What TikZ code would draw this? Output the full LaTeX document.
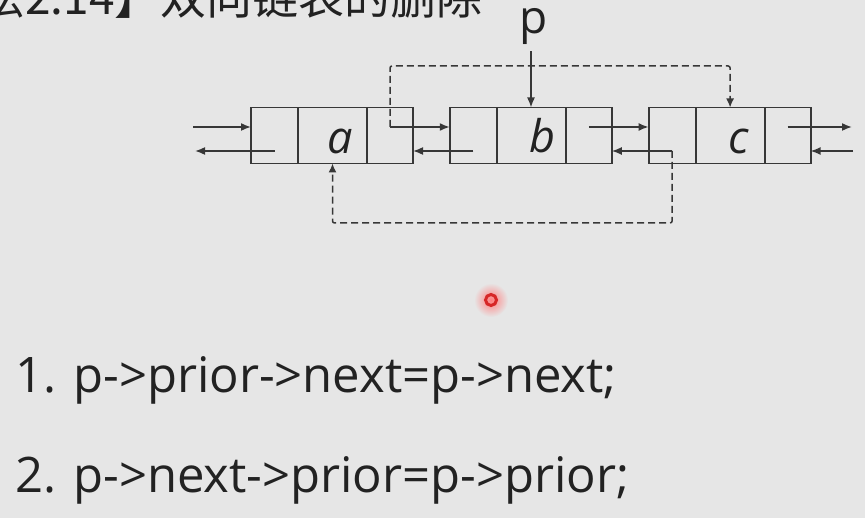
\documentclass[tikz,border=0pt]{standalone}
\usepackage{fontspec}
\setmainfont{Open Sans}
\newfontfamily\cjkfont{Noto Sans CJK SC}
\usetikzlibrary{positioning,matrix,arrows.meta,calc}
\definecolor{slidebg}{RGB}{230,230,230}
\definecolor{ink}{RGB}{55,55,55}
\definecolor{codeink}{RGB}{34,34,34}
\tikzset{
  link/.style={-{Latex[length=10pt,width=8pt]}, ink, line width=1.6pt},
  hop/.style={ink, line width=1.5pt, dash pattern=on 7pt off 4pt, rounded corners=2pt},
  lab/.style={font=\fontsize{45}{45}\selectfont\itshape, text=codeink, inner sep=0pt, anchor=base},
  code/.style={font=\fontsize{49}{49}\selectfont, text=codeink, inner sep=0pt, anchor=base west},
  dnode/.style={matrix of nodes, nodes in empty cells, inner sep=0pt, outer sep=0pt,
    column sep=-1.8pt,
    nodes={draw=ink, line width=1.8pt, minimum height=56pt, inner sep=0pt},
    column 1/.style={nodes={minimum width=47pt}},
    column 2/.style={nodes={minimum width=69pt}},
    column 3/.style={nodes={minimum width=46pt}}},
}
\begin{document}
\begin{tikzpicture}[x=1pt,y=1pt]
\fill[slidebg] (0,0) rectangle (865,-518);
\useasboundingbox (0,0) rectangle (865,-518);
\clip (0,0) rectangle (865,-518);

% title, cut off at the slide edge
\node[font=\cjkfont\fontsize{46}{46}\selectfont, text=codeink, inner sep=0pt, anchor=base east] (ttl) at (483,-15) {【算法2.14】双向链表的删除};

% the three list nodes
\matrix (A) [dnode] at (332,-135.5) {&&\\};
\matrix (B) [dnode, right=35pt of A] {&&\\};
\matrix (C) [dnode, right=35pt of B] {&&\\};

\node[lab] (a) at ($(A-1-2.center)+(8,-18)$) {a};
\node[lab] (b) at ($(B-1-2.center)+(11,-17)$) {b};
\node[lab] (c) at ($(C-1-2.center)+(9,-18)$) {c};

% rows of the next / prior pointers
\coordinate (up) at (0,-127);
\coordinate (dn) at (0,-151);
\coordinate (over) at (0,-66);
\coordinate (under) at (0,-223);
\coordinate (inA) at (193,-127);
\coordinate (outA) at (195,-151);
\coordinate (outC) at (852,-127);
\coordinate (inC) at (853,-151);

\draw[link] (inA) -- (A-1-1.west |- up);
\draw[link] (A-1-1.center |- dn) -- (outA);
\draw[link] (A-1-3.center |- up) -- (B-1-1.west |- up);
\draw[link] (B-1-1.center |- dn) -- (A-1-3.east |- dn);
\draw[link] (B-1-3.center |- up) -- (C-1-1.west |- up);
\draw[link] (C-1-1.center |- dn) -- (B-1-3.east |- dn);
\draw[link] (C-1-3.center |- up) -- (outC);
\draw[link] (inC) -- (C-1-3.east |- dn);

% new links after deleting b
\draw[hop, -{Latex[length=9pt,width=8pt]}] (A-1-3.center |- up) -- (A-1-3.center |- over) -| (C-1-2.north);
\draw[hop, -{Latex[length=9pt,width=8pt]}] (C-1-1.center |- dn) -- (C-1-1.center |- under) -| (A-1-2.south);

% pointer p
\node[font=\fontsize{46}{46}\selectfont, text=codeink, inner sep=0pt, anchor=base] (p) at (534,-34) {p};
\draw[link] ([xshift=-3pt,yshift=-6pt]p.south) -- ([xshift=-3pt]p.south |- B-1-2.north);

% pointer cursor
\shade[inner color=red!50, outer color=slidebg] (491,-300) circle (17);
\draw[red!80!black, line width=3pt, opacity=.75] (491,-300) circle (5.5);

\node[code] (l1) at (15,-393) {1. p->prior->next=p->next;};
\node[code] (l2) at (15,-493) {2. p->next->prior=p->prior;};
\end{tikzpicture}
\end{document}
